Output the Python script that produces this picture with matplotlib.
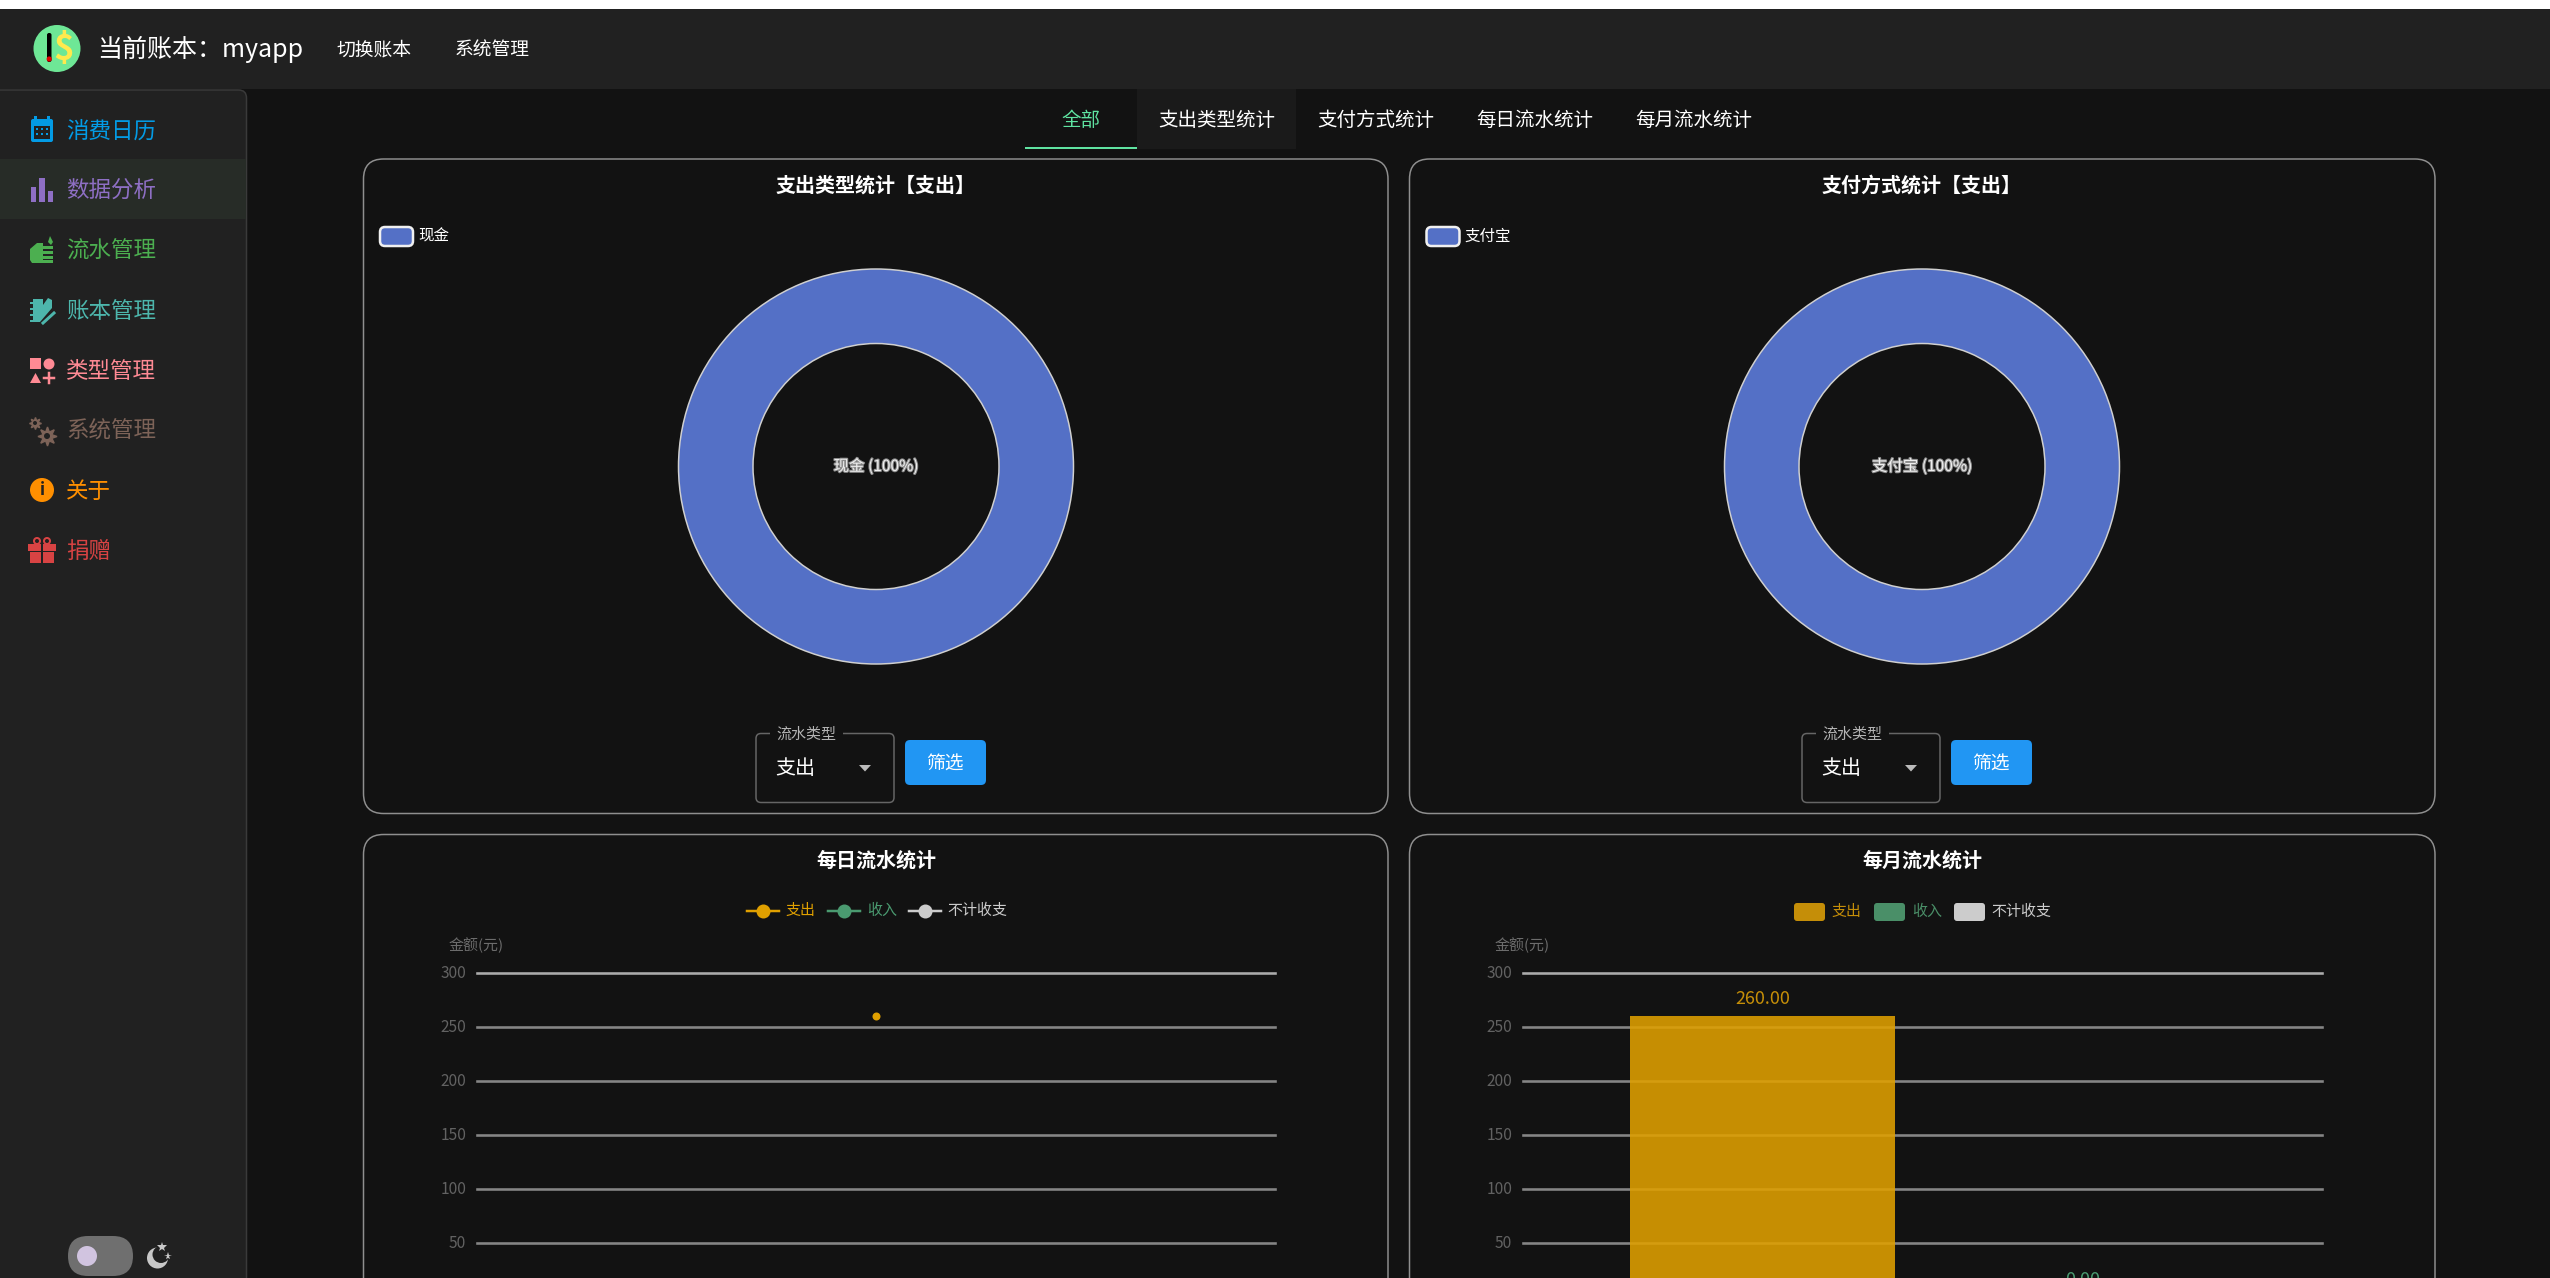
import matplotlib
matplotlib.use('Agg')
import matplotlib.pyplot as plt
import matplotlib.patheffects as pe
from matplotlib.patches import FancyBboxPatch, Circle, Rectangle, Polygon, Wedge
from matplotlib.transforms import ScaledTranslation

plt.rcParams['font.family'] = ['Noto Sans CJK SC', 'DejaVu Sans']

W, H = 2550, 1278

# data
type_names = ['现金']
type_values = [260]
pay_names = ['支付宝']
pay_values = [260]
axis_ticks = [0, 50, 100, 150, 200, 250, 300]
series_names = ['支出', '收入', '不计收支']
series_colors = ['#e0a000', '#4a9a70', '#cccccc']
daily_days = [0]
daily_expense = [260]
monthly_slots = [-0.2, 0.2]
monthly_values = [260, 0]

menu_names = ['消费日历', '数据分析', '流水管理', '账本管理', '类型管理', '系统管理', '关于', '捐赠']
menu_colors = ['#039be5', '#8e6fc4', '#4caf50', '#4db6ac', '#ff8a94', '#7d6358', '#ff8f00', '#d84343']
tab_names = ['全部', '支出类型统计', '支付方式统计', '每日流水统计', '每月流水统计']

BG = '#121212'
PANEL = '#212121'


def fs(px):
    return px * 0.72


def rbox(ax, x0, y0, x1, y1, r, fc='none', ec='none', lw=0, z=1):
    p = FancyBboxPatch((x0 + r, y0 + r), x1 - x0 - 2 * r, y1 - y0 - 2 * r,
                       boxstyle=f'round,pad={r},rounding_size={r}',
                       fc=fc, ec=ec, lw=lw * 0.72, zorder=z)
    ax.add_patch(p)
    return p


def text(ax, x, y, s, px, color='white', ha='center', va='center', **kw):
    return ax.text(x, y + 1, s, fontsize=fs(px), color=color, ha=ha, va=va, **kw)


def axes_px(x0, y0, x1, y1):
    ax = fig.add_axes([x0 / W, 1 - y1 / H, (x1 - x0) / W, (y1 - y0) / H])
    ax.patch.set_alpha(0)
    return ax


def draw_icon(ax, i, cx, cy, c):
    if i == 0:
        rbox(ax, cx - 11, cy - 11, cx + 11, cy + 12, 2, fc=c, z=3)
        ax.add_patch(Rectangle((cx - 8, cy - 4), 16, 13, fc=PANEL, zorder=4))
        for dx in (-5, 0, 5):
            for dy in (-1, 4):
                ax.add_patch(Rectangle((cx + dx - 1, cy + dy - 1), 2, 2, fc=c, zorder=5))
        ax.add_patch(Rectangle((cx - 8, cy - 14), 3, 4, fc=c, zorder=3))
        ax.add_patch(Rectangle((cx + 5, cy - 14), 3, 4, fc=c, zorder=3))
    elif i == 1:
        ax.add_patch(Rectangle((cx - 11, cy - 3), 5, 15, fc=c, zorder=3))
        ax.add_patch(Rectangle((cx - 3, cy - 12), 6, 24, fc=c, zorder=3))
        ax.add_patch(Rectangle((cx + 6, cy + 1), 5, 11, fc=c, zorder=3))
    elif i == 2:
        ax.add_patch(Polygon([(cx - 12, cy - 1), (cx - 5, cy - 7), (cx + 1, cy - 7), (cx + 1, cy + 13),
                              (cx - 10, cy + 13), (cx - 12, cy + 10)], fc=c, zorder=3))
        for k, dy in enumerate((-4, 1, 6, 10)):
            ax.add_patch(Rectangle((cx, cy + dy), 11, 3, fc=c, zorder=3))
        ax.add_patch(Polygon([(cx + 8, cy - 14), (cx + 11, cy - 8), (cx + 9, cy - 5), (cx + 6, cy - 8)], fc=c, zorder=3))
    elif i == 3:
        ax.add_patch(Polygon([(cx - 9, cy - 11), (cx + 1, cy - 11), (cx + 1, cy - 5), (cx + 6, cy - 12),
                              (cx + 10, cy - 10), (cx + 10, cy - 2), (cx - 2, cy + 12), (cx - 9, cy + 12)],
                             fc=c, zorder=3))
        ax.plot([cx + 1, cx + 12], [cy + 13, cy + 3], color=c, lw=fs(3), zorder=3)
        for dy in (-8, -2, 4, 10):
            ax.add_patch(Rectangle((cx - 12, cy + dy), 3, 2, fc=c, zorder=3))
    elif i == 4:
        ax.add_patch(Rectangle((cx - 12, cy - 12), 11, 11, fc=c, zorder=3))
        ax.add_patch(Circle((cx + 7, cy - 6), 5.5, fc=c, zorder=3))
        ax.add_patch(Polygon([(cx - 12, cy + 13), (cx - 1, cy + 13), (cx - 6.5, cy + 3)], fc=c, zorder=3))
        ax.plot([cx + 2, cx + 12], [cy + 8, cy + 8], color=c, lw=fs(2.5), zorder=3)
        ax.plot([cx + 7, cx + 7], [cy + 3, cy + 13], color=c, lw=fs(2.5), zorder=3)
    elif i == 5:
        ax.plot(cx - 7, cy - 7, marker=(8, 1, 0), ms=fs(12), color=c, zorder=3)
        ax.add_patch(Circle((cx - 7, cy - 7), 2, fc=PANEL, zorder=4))
        ax.plot(cx + 5, cy + 6, marker=(8, 1, 0), ms=fs(19), color=c, zorder=3)
        ax.add_patch(Circle((cx + 5, cy + 6), 3, fc=PANEL, zorder=4))
    elif i == 6:
        ax.add_patch(Circle((cx, cy), 12, fc=c, zorder=3))
        ax.text(cx, cy, 'i', fontsize=fs(17), color=PANEL, fontweight='bold', ha='center', va='center', zorder=4)
    else:
        ax.add_patch(Rectangle((cx - 14, cy - 6), 28, 7, fc=c, zorder=3))
        ax.add_patch(Rectangle((cx - 12, cy + 2), 24, 11, fc=c, zorder=3))
        ax.add_patch(Rectangle((cx - 1, cy - 6), 2, 19, fc=PANEL, zorder=4))
        ax.add_patch(Wedge((cx - 5, cy - 9), 4, 0, 360, width=2, fc=c, zorder=3))
        ax.add_patch(Wedge((cx + 5, cy - 9), 4, 0, 360, width=2, fc=c, zorder=3))


def draw_y_axis(ax):
    ax.set_ylim(axis_ticks[0], axis_ticks[-1])
    ax.set_xlim(-0.5, 0.5)
    ax.set_yticks(axis_ticks[1:])
    ax.set_xticks([])
    ax.tick_params(axis='y', length=0, pad=fs(11), labelsize=fs(15.5), labelcolor='#626262')
    for sp in ax.spines.values():
        sp.set_visible(False)
    ax.grid(axis='y', color='#858585', lw=fs(2.6), zorder=1)
    ax.set_axisbelow(True)
    ax.yaxis.get_gridlines()[-1].set_color('#ababab')
    for g in ax.yaxis.get_gridlines():
        g.set_clip_on(False)
    up = ScaledTranslation(0, 2 / 100, fig.dpi_scale_trans)
    for lb in ax.get_yticklabels():
        lb.set_transform(lb.get_transform() + up)


def draw_donut(cx, cy, names, values, title, legend_x):
    R = 197.5
    ax = axes_px(cx - R - 4, cy - R - 4, cx + R + 4, cy + R + 4)
    ax.pie(values, colors=['#5470c6'], radius=1, startangle=90,
           wedgeprops=dict(width=(197.5 - 123) / 197.5, edgecolor='#d0d0d0', linewidth=fs(1.5)))
    lim = (R + 4) / R
    ax.set_xlim(-lim, lim)
    ax.set_ylim(-lim, lim)
    pct = values[0] / sum(values) * 100
    t = ax.text(0, 0, f'{names[0]} ({pct:.0f}%)', fontsize=fs(15.5), color='#eeeeee', ha='center', va='center')
    t.set_path_effects([pe.withStroke(linewidth=1.5, foreground='#8c8c8c')])
    text(bg, cx, 184, title, 20, fontweight='bold', zorder=3)
    rbox(bg, legend_x, 227, legend_x + 33, 246, 5, fc='#5470c6', ec='#f0f0f0', lw=2.5, z=3)
    text(bg, legend_x + 38, 235, names[0], 15.5, ha='left', zorder=3)


fig = plt.figure(figsize=(W / 100, H / 100), dpi=100, facecolor=BG)
bg = fig.add_axes([0, 0, 1, 1])
bg.set_xlim(0, W)
bg.set_ylim(H, 0)
bg.axis('off')
bg.set_autoscale_on(False)

# browser strip and header
bg.add_patch(Rectangle((0, 0), W, 8.5, fc='white', zorder=5))
bg.add_patch(Rectangle((0, 9), W, 80, fc=PANEL, zorder=2))
bg.add_patch(Circle((57, 48.5), 23.5, fc='#6ee796', zorder=3))
rbox(bg, 47, 33, 51.5, 62, 2, fc='black', z=4)
bg.add_patch(Circle((49.2, 59), 2.6, fc='#e00000', zorder=5))
text(bg, 64, 48, '$', 35, color='#ffe94d', fontweight='bold', zorder=4)
text(bg, 97, 48.5, '当前账本：myapp', 25, ha='left', zorder=3)
text(bg, 336, 49.5, '切换账本', 18.8, ha='left', zorder=3)
text(bg, 455, 49.5, '系统管理', 18.8, ha='left', zorder=3)

# sidebar
rbox(bg, -20, 90, 246.5, H + 20, 8, fc=PANEL, ec='#3a3a3a', lw=1.5, z=2)
bg.add_patch(Rectangle((0, 159), 246, 59.5, fc='#272c27', zorder=2.5))
for i, (name, color) in enumerate(zip(menu_names, menu_colors)):
    y = 130 + i * 60
    draw_icon(bg, i, 42, y, color)
    text(bg, 66, y, name, 22.5, color=color, ha='left', zorder=3)

# theme toggle
rbox(bg, 68, 1236, 133, 1276, 20, fc='#6f6f6f', z=3)
bg.add_patch(Circle((87, 1256), 10, fc='#d1c4e0', zorder=4))
bg.add_patch(Circle((157.5, 1258), 10.5, fc='#c8c8c8', zorder=3))
bg.add_patch(Circle((161, 1254.5), 8.5, fc=PANEL, zorder=3.5))
bg.plot(162, 1247, marker='*', ms=fs(11), color='#c8c8c8', mew=0, zorder=4)
bg.plot(168, 1256, marker='*', ms=fs(8), color='#c8c8c8', mew=0, zorder=4)

# tabs
bg.add_patch(Rectangle((1137, 89), 159, 60, fc='#1a1a1a', zorder=2))
bg.add_patch(Rectangle((1025, 146.5), 112, 2.5, fc='#5fe3a1', zorder=3))
for i, name in enumerate(tab_names):
    x = 1081 if i == 0 else 1217 + (i - 1) * 159
    text(bg, x, 119.5, name, 19.5, color='#5fe3a1' if i == 0 else 'white', zorder=3)

# cards
for x0, x1 in ((363.5, 1388), (1409.5, 2435)):
    rbox(bg, x0, 159, x1, 813.5, 20, ec='#8f8f8f', lw=1.5, z=1)
    rbox(bg, x0, 834.5, x1, H + 60, 20, ec='#8f8f8f', lw=1.5, z=1)

draw_donut(876, 466.5, type_names, type_values, '支出类型统计【支出】', 380)
draw_donut(1922, 466.5, pay_names, pay_values, '支付方式统计【支出】', 1426.5)

# filter controls under the donuts
for dx in (0, 1046):
    rbox(bg, 756 + dx, 733.5, 894 + dx, 802.5, 5, ec='#666666', lw=1.5, z=2)
    bg.add_patch(Rectangle((770 + dx, 730), 73, 7, fc=BG, zorder=2.5))
    text(bg, 806 + dx, 733.5, '流水类型', 15, color='#b4b4b4', zorder=3)
    text(bg, 775 + dx, 767.5, '支出', 20, ha='left', zorder=3)
    bg.add_patch(Polygon([(859 + dx, 765), (871 + dx, 765), (865 + dx, 771.5)], fc='#bbbbbb', zorder=3))
    rbox(bg, 905 + dx, 740, 986 + dx, 785, 5, fc='#2196f3', z=3)
    text(bg, 945 + dx, 763.5, '筛选', 18.8, zorder=4)

# daily chart
text(bg, 876, 859.5, '每日流水统计', 20, fontweight='bold', zorder=3)
for x, lx, name, c in zip((747, 828, 909), (785, 867, 947), series_names, series_colors):
    bg.plot([x, x + 32], [910.5, 910.5], color=c, lw=fs(2.5), zorder=3)
    bg.plot(x + 16, 910.5, 'o', ms=fs(14), color=c, mew=0, zorder=4)
    text(bg, lx, 910, name, 15, color=c, ha='left', zorder=3)
text(bg, 476, 944.5, '金额(元)', 15, color='#6c6c6c', zorder=3)

ax_day = axes_px(477, 973, 1275, 1297)
draw_y_axis(ax_day)
ax_day.plot(daily_days, daily_expense, color=series_colors[0], marker='o', ms=fs(8), mew=0, zorder=3)

# monthly chart
bar_colors = series_colors[:2]
text(bg, 1922, 859.5, '每月流水统计', 20, fontweight='bold', zorder=3)
for x, lx, name, c in zip((1794, 1874, 1954), (1831, 1912, 1991),
                          series_names, ['#c58e08', '#4a8f68', '#cccccc']):
    rbox(bg, x, 903, x + 31, 921, 3, fc=c, z=3)
    text(bg, lx, 910.5, name, 15, color=c, ha='left', zorder=3)
text(bg, 1522, 944.5, '金额(元)', 15, color='#6c6c6c', zorder=3)

ax_mon = axes_px(1523, 973, 2322, 1297)
draw_y_axis(ax_mon)
ax_mon.bar(monthly_slots, monthly_values, width=0.332, color=bar_colors, alpha=0.88, zorder=3)
for x, v, c in zip(monthly_slots, monthly_values, ['#c58e08', '#4a9a70']):
    ax_mon.annotate(f'{v:.2f}', (x, v), xytext=(0, fs(8)), textcoords='offset points',
                    ha='center', va='bottom', fontsize=fs(18), color=c, annotation_clip=False)

fig.savefig('out.png', dpi=100, facecolor=BG)
